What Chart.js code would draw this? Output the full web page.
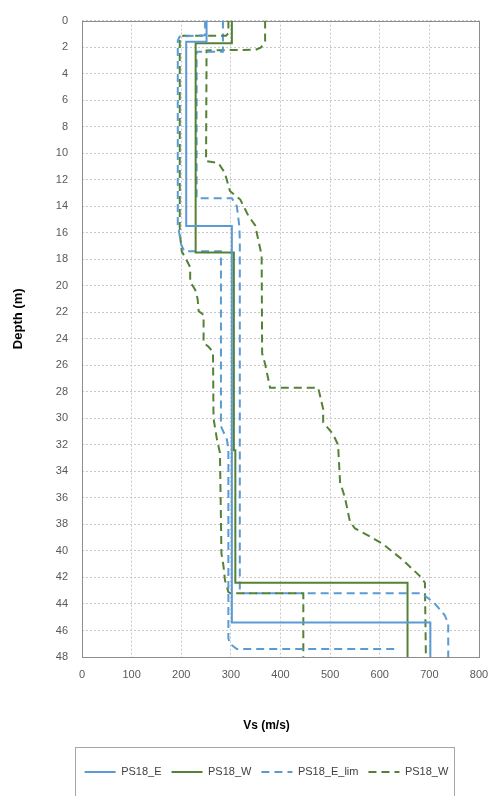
<!DOCTYPE html>
<html>
<head>
<meta charset="utf-8">
<script src="https://cdn.jsdelivr.net/npm/chart.js@4.4.1/dist/chart.umd.min.js"></script>
<style>
  body { margin: 0; background: #fff; }
  #wrap { width: 489px; height: 796px; }
</style>
</head>
<body>
<div id="wrap"><canvas id="profile"></canvas></div>
<script>
// Vs profiles (m/s) against depth (m)
const eVs    = [251, 251, 210, 210, 302, 302, 702, 702];
const eDepth = [0, 1.6, 1.6, 15.5, 15.5, 45.4, 45.4, 48];

const wVs    = [302, 302, 229, 229, 306, 306, 309, 309, 656, 656];
const wDepth = [0, 1.7, 1.7, 17.5, 17.5, 32.4, 32.4, 42.4, 42.4, 48];

// E limits: lower and upper branch
const eLoVs    = [248, 248, 197, 193, 193, 200, 206, 280, 280, 292, 295, 295, 298, 312, 632, 634];
const eLoDepth = [0, 1.1, 1.2, 1.5, 15.4, 16.9, 17.4, 17.4, 30.6, 31.6, 32.3, 46.6, 47.0, 47.4, 47.4, 47.6];

const eHiVs    = [284, 284, 231, 231, 302, 312, 317, 318, 318, 325, 684, 708, 731, 738, 738];
const eHiDepth = [0, 2.35, 2.35, 13.4, 13.4, 14.0, 15.5, 16.5, 43.0, 43.2, 43.2, 43.85, 44.85, 45.5, 48];

// W limits: lower and upper branch
const wLoVs    = [295, 295, 290, 204, 197, 197, 201, 211, 218, 218, 228, 233, 235, 245, 245, 255, 264, 265, 272, 278, 281, 285, 288, 295, 300, 446, 446];
const wLoDepth = [0, 0.95, 1.15, 1.15, 1.3, 16.0, 17.4, 18.1, 18.6, 19.7, 20.3, 21.0, 21.9, 22.2, 24.3, 24.6, 25.0, 30.0, 31.6, 32.6, 40.2, 41.1, 42.2, 43.1, 43.2, 43.2, 48];

const wHiVs    = [369, 369, 360, 350, 251, 250, 275, 288, 298, 319, 335, 349, 355, 362, 363, 369, 379, 476, 486, 486, 506, 516, 520, 530, 540, 550, 580, 607, 647, 681, 691, 693];
const wHiDepth = [0, 1.6, 2.05, 2.2, 2.25, 10.6, 10.75, 11.5, 12.85, 13.5, 14.7, 15.45, 16.5, 17.7, 25.1, 25.9, 27.7, 27.7, 29.3, 30.3, 31.2, 32.0, 34.8, 36.0, 37.8, 38.3, 38.9, 39.5, 40.7, 41.9, 42.4, 48];

const xTicks = [0, 100, 200, 300, 400, 500, 600, 700, 800];
const depthMax = 48;

const xTitle = "Vs (m/s)";
const yTitle = "Depth (m)";

const blue = "#5b9bd5";
const green = "#548235";
const fontFamily = "'Liberation Sans', Arial, sans-serif";

// titles and legend sit a little left of the plot centre, the depth title a little high
const centreShift = -14;
const depthTitleShift = -20;

const pts = (vs, depth) => vs.map((v, i) => ({ x: v, y: depth[i] }));

const line = (label, vs, depth, color, dashed) => ({
  label: label,
  data: pts(vs, depth),
  showLine: true,
  borderColor: color,
  backgroundColor: color,
  borderWidth: 2,
  borderDash: dashed ? [8, 5] : [],
  pointRadius: 0,
  pointHoverRadius: 0,
  tension: 0,
});

// outline of the plot area
const plotFrame = {
  id: "plotFrame",
  beforeDatasetsDraw(chart) {
    const { ctx, chartArea: a } = chart;
    ctx.save();
    ctx.strokeStyle = "#8c8c8c";
    ctx.lineWidth = 1;
    ctx.strokeRect(Math.round(a.left) + 0.5, Math.round(a.top) + 0.5,
      Math.round(a.right - a.left), Math.round(a.bottom - a.top));
    ctx.restore();
  },
};

// axis titles, drawn in the space the scales reserve
const axisTitles = {
  id: "axisTitles",
  afterDraw(chart) {
    const { ctx, chartArea: a, scales } = chart;
    ctx.save();
    ctx.fillStyle = "#000";
    ctx.textAlign = "center";
    ctx.textBaseline = "middle";
    ctx.font = "bold 12px " + fontFamily;
    ctx.fillText(xTitle, (a.left + a.right) / 2 + centreShift, scales.x.bottom - 30.5);
    ctx.font = "bold 13px " + fontFamily;
    ctx.translate(scales.y.left + 18, (a.top + a.bottom) / 2 + depthTitleShift);
    ctx.rotate(-Math.PI / 2);
    ctx.fillText(yTitle, 0, 0);
    ctx.restore();
  },
};

// legend: nudged sideways, and boxed
const legendFrame = {
  id: "legendFrame",
  afterLayout(chart) {
    chart.legend.left += centreShift;
    chart.legend.right += centreShift;
  },
  afterDraw(chart) {
    const lg = chart.legend;
    const boxes = lg.legendHitBoxes;
    if (!boxes || !boxes.length) return;
    const left = Math.min(...boxes.map((b) => b.left)) - 10;
    const right = Math.max(...boxes.map((b) => b.left + b.width)) + 5;
    const top = lg.top - 10;
    const { ctx } = chart;
    ctx.save();
    ctx.strokeStyle = "#a6a6a6";
    ctx.lineWidth = 1;
    ctx.strokeRect(Math.round(left) + 0.5, Math.round(top) + 0.5,
      Math.round(right - left), chart.height);
    ctx.restore();
  },
};

// legend samples take width and dash from the dataset line, not the points
const legendLabels = (chart) =>
  Chart.defaults.plugins.legend.labels.generateLabels(chart).map((item) => {
    const ds = chart.data.datasets[item.datasetIndex];
    item.strokeStyle = ds.borderColor;
    item.lineWidth = ds.borderWidth;
    item.lineDash = ds.borderDash;
    return item;
  });

Chart.defaults.font.family = fontFamily;
Chart.defaults.color = "#595959";

new Chart(document.getElementById("profile"), {
  type: "scatter",
  data: {
    datasets: [
      line("PS18_E", eVs, eDepth, blue, false),
      line("PS18_W", wVs, wDepth, green, false),
      line("PS18_E_lim", eLoVs, eLoDepth, blue, true),
      line("PS18_W", wLoVs, wLoDepth, green, true),
      line("PS18_E_lim", eHiVs, eHiDepth, blue, true),
      line("PS18_W", wHiVs, wHiDepth, green, true),
    ],
  },
  options: {
    responsive: true,
    maintainAspectRatio: false,
    animation: false,
    layout: { padding: { top: 12, right: 10, left: 0, bottom: 8.5 } },
    scales: {
      x: {
        type: "linear",
        min: xTicks[0],
        max: xTicks[xTicks.length - 1],
        afterBuildTicks: (scale) => {
          scale.ticks = xTicks.map((v) => ({ value: v }));
        },
        afterFit: (scale) => {
          scale.height = 99.5;
          scale.paddingLeft = 0;
          scale.paddingRight = 0;
        },
        ticks: { font: { size: 11 }, padding: 11 },
        grid: { color: "#c8c8c8", drawTicks: false },
        border: { display: false, dash: [2, 2] },
      },
      y: {
        type: "linear",
        reverse: true,
        min: 0,
        max: depthMax,
        afterFit: (scale) => {
          scale.width = 82;
        },
        ticks: { stepSize: 2, font: { size: 11 }, padding: 14 },
        grid: { color: "#c8c8c8", drawTicks: false },
        border: { display: false, dash: [2, 2] },
      },
    },
    plugins: {
      legend: {
        position: "bottom",
        fullSize: false,
        labels: {
          usePointStyle: true,
          pointStyle: "line",
          pointStyleWidth: 31,
          padding: 10,
          color: "#404040",
          font: { size: 11 },
          generateLabels: legendLabels,
          filter: (item) => item.datasetIndex < 4,
        },
      },
      tooltip: { enabled: false },
    },
  },
  plugins: [plotFrame, axisTitles, legendFrame],
});
</script>
</body>
</html>
